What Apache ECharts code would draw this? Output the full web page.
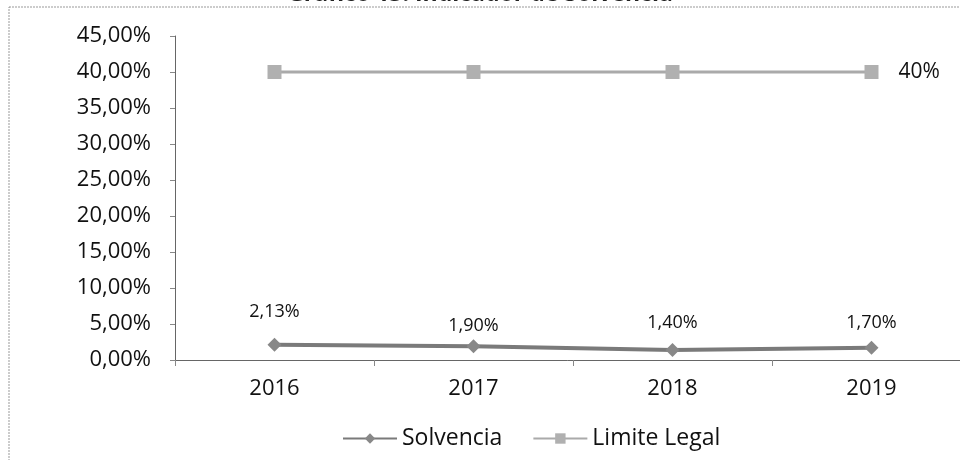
<!DOCTYPE html>
<html lang="es">
<head>
    <meta charset="UTF-8">
    <title>Indicador de Solvencia</title>
    <script src="https://cdn.jsdelivr.net/npm/echarts@6/dist/echarts.min.js"></script>
</head>
<body style="margin:0;background:#fff">
    <div id="box" style="width:960px;height:460px"></div>
    <script>
        // datos
        var years = ['2016', '2017', '2018', '2019'];
        var solvencia = [2.13, 1.90, 1.40, 1.70];
        var limiteLegal = [40, 40, 40, 40];
        var yTicks = [0, 5, 10, 15, 20, 25, 30, 35, 40, 45];

        function pct(v) {
            return v.toFixed(2).replace('.', ',') + '%';
        }

        var font = '"Open Sans", sans-serif';
        // separacion de cada etiqueta sobre su punto (como en la imagen)
        var labelGap = [17, 4, 11, 9];
        var chart = echarts.init(document.getElementById('box'));

        var option = {
            animation: false,
            title: {
                text: 'Gráfico 13: Indicador de Solvencia',
                left: 'center',
                top: -22,
                textStyle: { fontSize: 23, fontWeight: 'bold', color: '#222', fontFamily: font }
            },
            graphic: [{
                type: 'rect',
                shape: { x: 9, y: 7, width: 990, height: 500 },
                style: { fill: 'none', stroke: '#999', lineWidth: 1, lineDash: [2, 1] }
            }],
            grid: { left: 175, width: 796, top: 36, bottom: 100, outerBoundsMode: 'none' },
            legend: {
                left: 337,
                bottom: 5,
                itemGap: 30,
                itemWidth: 54,
                itemHeight: 13,
                textStyle: { fontSize: 23, color: '#111', fontFamily: font },
                data: ['Solvencia', 'Limite Legal']
            },
            xAxis: {
                type: 'category',
                data: years,
                axisLine: { lineStyle: { color: '#666', width: 1 } },
                axisTick: { show: true, length: 6, lineStyle: { color: '#888' } },
                axisLabel: { fontSize: 22, color: '#111', margin: 18, fontFamily: font }
            },
            yAxis: {
                type: 'value',
                min: yTicks[0],
                max: yTicks[yTicks.length - 1],
                interval: yTicks[1] - yTicks[0],
                splitLine: { show: false },
                axisLine: { show: true, lineStyle: { color: '#666', width: 1 } },
                axisTick: { show: true, length: 5, lineStyle: { color: '#888' } },
                axisLabel: { fontSize: 22, color: '#111', margin: 24, fontFamily: font, formatter: pct }
            },
            series: [
                {
                    name: 'Solvencia',
                    type: 'line',
                    symbol: 'diamond',
                    symbolSize: 14,
                    lineStyle: { color: '#7a7a7a', width: 4 },
                    itemStyle: { color: '#888' },
                    label: {
                        show: true,
                        position: 'top',
                        fontSize: 18,
                        color: '#111',
                        fontFamily: font,
                        formatter: function (p) { return pct(p.value); }
                    },
                    data: solvencia.map(function (v, i) {
                        return { value: v, label: { distance: labelGap[i] } };
                    })
                },
                {
                    name: 'Limite Legal',
                    type: 'line',
                    symbol: 'rect',
                    symbolSize: 14,
                    lineStyle: { color: '#aaa', width: 3 },
                    itemStyle: { color: '#b0b0b0' },
                    label: {
                        show: false,
                        position: 'right',
                        distance: 20,
                        fontSize: 21,
                        color: '#111',
                        fontFamily: font,
                        formatter: function (p) { return p.value + '%'; }
                    },
                    data: limiteLegal.map(function (v, i) {
                        return i === limiteLegal.length - 1 ? { value: v, label: { show: true } } : v;
                    })
                }
            ]
        };
        chart.setOption(option);
    </script>
</body>
</html>
